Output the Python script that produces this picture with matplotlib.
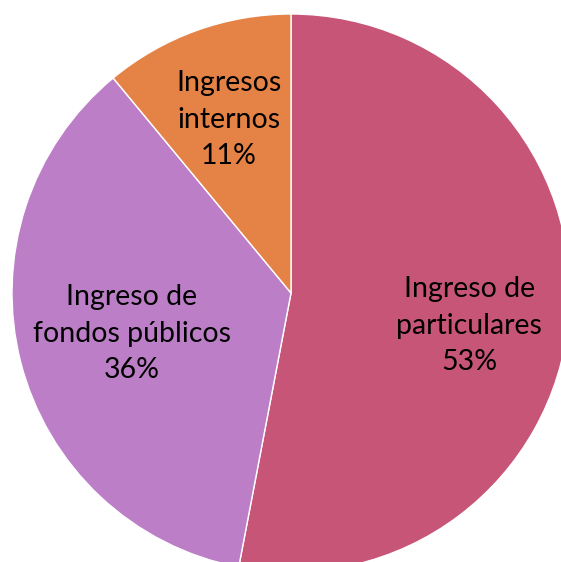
import matplotlib
matplotlib.use("Agg")
import matplotlib.pyplot as plt
import numpy as np

labels = ["Ingreso de\nparticulares", "Ingreso de\nfondos públicos", "Ingresos\ninternos"]
values = [53, 36, 11]
colors = ["#C75578", "#BD7EC8", "#E58347"]

fig = plt.figure(figsize=(5.61, 5.62), dpi=100)
ax = fig.add_axes([0, 0, 1, 1])

cx, cy, r = 291, 269, 279
wedges, _ = ax.pie(
    values, colors=colors, startangle=90, counterclock=False,
    center=(cx, cy), radius=r, frame=True,
    wedgeprops=dict(edgecolor="white", linewidth=1),
)
ax.set_xlim(0, 561)
ax.set_ylim(0, 562)
ax.axis("off")

# label distance (fraction of radius) and small angle nudge per wedge
dists = [0.65, 0.59, 0.66]
nudge = [-5, 0, 0]
for w, lab, v, d, dn in zip(wedges, labels, values, dists, nudge):
    ang = np.deg2rad((w.theta1 + w.theta2) / 2 + dn)
    ax.text(cx + d * r * np.cos(ang), cy + d * r * np.sin(ang),
            f"{lab}\n{v}%", ha="center", va="center",
            fontsize=20.5, family="Lato", linespacing=1.5)

fig.savefig("out.png", dpi=100)
